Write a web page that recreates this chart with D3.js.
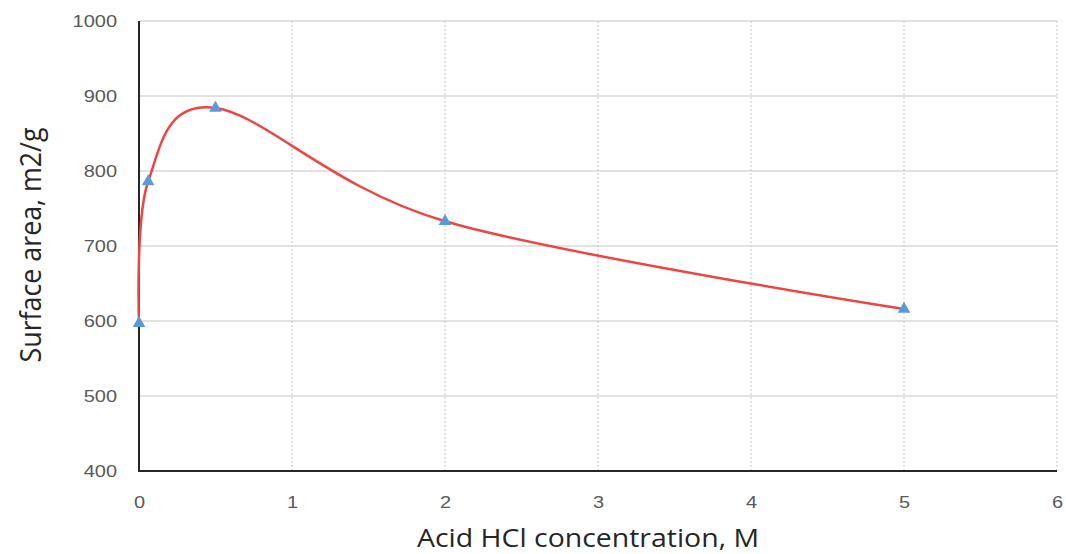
<!DOCTYPE html>
<html>
<head>
<meta charset="utf-8">
<script src="https://cdn.jsdelivr.net/npm/d3@7"></script>
<style>
  body { margin: 0; background: #fff; }
  svg { display: block; font-family: "Open Sans", sans-serif; }
  .tick text { fill: #595959; font-size: 16px; }
  .axis-title { fill: #262626; }
</style>
</head>
<body>
<div id="chart"></div>
<script>
// data
const concentration = [0, 0.06, 0.5, 2, 5];
const surfaceArea = [597, 786, 884, 733, 616];
const xTicks = [0, 1, 2, 3, 4, 5, 6];
const yTicks = [400, 500, 600, 700, 800, 900, 1000];

const width = 1066;
const height = 554;
const paddingLeft = 139;
const paddingRight = 9;
const paddingTop = 21;
const paddingBottom = 83;
const stretch = 1.25; // the picture is wider than it is tall, text looks stretched

const svg = d3.select('#chart').append('svg')
    .attr('width', width)
    .attr('height', height);

const xScale = d3.scaleLinear()
    .domain([0, 6])
    .range([paddingLeft, width - paddingRight]);
const yScale = d3.scaleLinear()
    .domain([400, 1000])
    .range([height - paddingBottom, paddingTop]);

// horizontal grid (solid)
svg.append('g')
    .selectAll('line')
    .data(yTicks)
    .enter()
    .append('line')
    .attr('x1', xScale(0))
    .attr('x2', xScale(6))
    .attr('y1', (d) => yScale(d))
    .attr('y2', (d) => yScale(d))
    .attr('stroke', '#d9d9d9')
    .attr('stroke-width', 1.5);

// vertical grid (dotted)
svg.append('g')
    .selectAll('line')
    .data(xTicks.slice(1))
    .enter()
    .append('line')
    .attr('x1', (d) => xScale(d))
    .attr('x2', (d) => xScale(d))
    .attr('y1', yScale(1000))
    .attr('y2', yScale(400))
    .attr('stroke', '#cfcfcf')
    .attr('stroke-width', 1.2)
    .attr('stroke-dasharray', '2,2');

// axes
const xAxis = d3.axisBottom(xScale)
    .tickValues(xTicks)
    .tickSize(0)
    .tickFormat(d3.format('d'));
const yAxis = d3.axisLeft(yScale)
    .tickValues(yTicks)
    .tickSize(0)
    .tickFormat(d3.format('d'));

svg.append('g')
    .attr('transform', `translate(0,${yScale(400)})`)
    .call(xAxis)
    .call((g) => g.select('.domain').remove())
    .selectAll('.tick text')
    .attr('y', 31)
    .attr('dy', '0.35em')
    .attr('transform', `scale(${stretch},1)`);
svg.append('g')
    .attr('transform', `translate(${xScale(0)},0)`)
    .call(yAxis)
    .call((g) => g.select('.domain').remove())
    .selectAll('.tick text')
    .attr('x', -22 / stretch)
    .attr('dy', '0.35em')
    .attr('transform', `scale(${stretch},1)`);

svg.selectAll('.tick text').attr('font-family', null).attr('font-size', null);

// axis lines
svg.append('line')
    .attr('x1', xScale(0))
    .attr('x2', xScale(6))
    .attr('y1', yScale(400))
    .attr('y2', yScale(400))
    .attr('stroke', '#262626')
    .attr('stroke-width', 2);
svg.append('line')
    .attr('x1', xScale(0))
    .attr('x2', xScale(0))
    .attr('y1', yScale(1000))
    .attr('y2', yScale(400) + 1)
    .attr('stroke', '#262626')
    .attr('stroke-width', 2);

// smoothed line
const points = concentration.map((c, i) => [c, surfaceArea[i]]);
const line = d3.line()
    .x((d) => xScale(d[0]))
    .y((d) => yScale(d[1]))
    .curve(d3.curveCardinal.tension(0));

svg.append('path')
    .datum(points)
    .attr('d', line)
    .attr('fill', 'none')
    .attr('stroke', '#ee4444')
    .attr('stroke-width', 2.5);

// triangle markers
const triangle = d3.symbol().type(d3.symbolTriangle).size(70);
svg.append('g')
    .selectAll('path')
    .data(points)
    .enter()
    .append('path')
    .attr('d', triangle)
    .attr('transform', (d) => `translate(${xScale(d[0])},${yScale(d[1])})`)
    .attr('fill', '#5b9bd5');

// titles
svg.append('text')
    .attr('class', 'axis-title')
    .attr('x', 588)
    .attr('y', 547)
    .attr('font-size', 25)
    .attr('text-anchor', 'middle')
    .attr('textLength', 342)
    .attr('lengthAdjust', 'spacingAndGlyphs')
    .text('Acid HCl concentration, M');
svg.append('text')
    .attr('class', 'axis-title')
    .attr('transform', `translate(41,245) scale(1.2,1) rotate(-90)`)
    .attr('font-size', 25)
    .attr('text-anchor', 'middle')
    .attr('textLength', 235)
    .attr('lengthAdjust', 'spacingAndGlyphs')
    .text('Surface area, m2/g');
</script>
</body>
</html>
